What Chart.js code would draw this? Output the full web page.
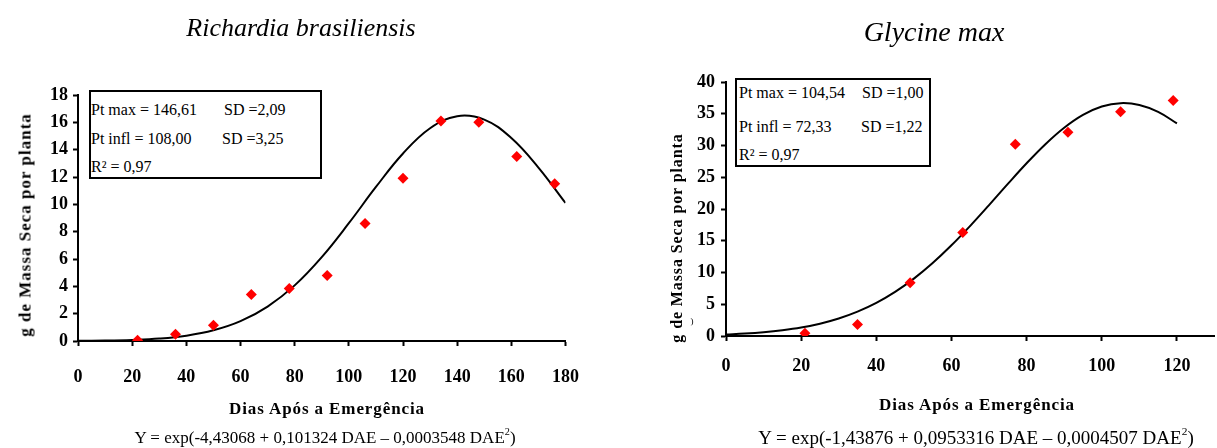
<!DOCTYPE html>
<html><head><meta charset="utf-8">
<script src="https://cdn.jsdelivr.net/npm/chart.js@4.4.1/dist/chart.umd.min.js"></script>
<style>
html,body{margin:0;padding:0;background:#fff;width:1217px;height:448px;overflow:hidden;position:relative;font-family:"Liberation Serif","Times New Roman",serif;color:#000}
.t{position:absolute;white-space:nowrap;transform:translate(-50%,-50%);line-height:1}
.v{position:absolute;white-space:nowrap;transform:translate(-50%,-50%) rotate(-90deg);line-height:1;font-weight:bold}
.box{position:absolute;border:2px solid #000;box-sizing:border-box;background:#fff}
.box span{position:absolute;white-space:nowrap;font-size:16px;line-height:1;transform:translateY(-50%)}
canvas{position:absolute;top:0;left:0}
sup{font-size:0.6em;vertical-align:0.75em;line-height:0}
</style></head><body>
<div style="position:absolute;left:0;top:0;width:600px;height:448px"><canvas id="cL" width="600" height="448"></canvas></div>
<div style="position:absolute;left:610px;top:0;width:610px;height:448px"><canvas id="cR" width="610" height="448"></canvas></div>

<div class="t" style="left:301px;top:28px;font-size:26px;font-style:italic">Richardia brasiliensis</div>
<div class="t" style="left:934px;top:32px;font-size:28px;font-style:italic">Glycine max</div>

<div class="v" style="left:25px;top:225px;font-size:17px;letter-spacing:1px">g de Massa Seca por planta</div>
<div class="v" style="left:677px;top:238px;font-size:16px;letter-spacing:0.9px">g de Massa Seca por planta</div>

<div class="t" style="left:327px;top:408px;font-size:17px;font-weight:bold;letter-spacing:0.9px">Dias Após a Emergência</div>
<div class="t" style="left:977px;top:404px;font-size:17px;font-weight:bold;letter-spacing:0.9px">Dias Após a Emergência</div>

<div class="t" style="left:325px;top:437px;font-size:17px">Y = exp(-4,43068 + 0,101324 DAE – 0,0003548 DAE<sup>2</sup>)</div>
<div class="t" style="left:976px;top:437px;font-size:19px">Y = exp(-1,43876 + 0,0953316 DAE – 0,0004507 DAE<sup>2</sup>)</div>

<div class="box" style="left:89px;top:90px;width:233px;height:89px">
  <span style="left:0px;top:17.5px">Pt max = 146,61</span>
  <span style="left:133px;top:17.5px">SD =2,09</span>
  <span style="left:0px;top:46.5px">Pt infl = 108,00</span>
  <span style="left:131px;top:46.5px">SD =3,25</span>
  <span style="left:0px;top:75px">R² = 0,97</span>
</div>
<div class="box" style="left:735px;top:78px;width:196px;height:89px">
  <span style="left:2px;top:13px">Pt max = 104,54</span>
  <span style="left:125px;top:13px">SD =1,00</span>
  <span style="left:2px;top:47px">Pt infl = 72,33</span>
  <span style="left:124px;top:47px">SD =1,22</span>
  <span style="left:2px;top:75px">R² = 0,97</span>
</div>
<div class="t" style="left:692px;top:321px;font-size:9px">)</div>

<script>
// Richardia brasiliensis
const leftDays = [22, 36, 50, 64, 78, 92, 106, 120, 134, 148, 162, 176];
const leftMass = [0.05, 0.5, 1.15, 3.4, 3.85, 4.8, 8.6, 11.9, 16.1, 16.0, 13.5, 11.5];
const leftCurveDays = [0, 10, 20, 30, 40, 50, 60, 70, 80, 90, 100, 110, 120, 130, 140, 150, 160, 170, 180];
const leftCurveMass = [0.01, 0.03, 0.08, 0.18, 0.39, 0.78, 1.45, 2.52, 4.07, 6.14, 8.62, 11.27, 13.72, 15.57, 16.45, 16.20, 14.85, 12.69, 10.10];
const leftXTicks = [0, 20, 40, 60, 80, 100, 120, 140, 160, 180];
const leftYTicks = [0, 2, 4, 6, 8, 10, 12, 14, 16, 18];

// Glycine max
const rightDays = [21, 35, 49, 63, 77, 91, 105, 119];
const rightMass = [0.45, 1.8, 8.4, 16.3, 30.2, 32.1, 35.3, 37.1];
const rightCurveDays = [0, 5, 10, 15, 20, 25, 30, 35, 40, 45, 50, 55, 60, 65, 70, 75, 80, 85, 90, 95, 100, 105, 110, 115, 120];
const rightCurveMass = [0.24, 0.38, 0.59, 0.90, 1.33, 1.94, 2.76, 3.84, 5.22, 6.95, 9.04, 11.49, 14.28, 17.35, 20.61, 23.95, 27.20, 30.21, 32.80, 34.82, 36.14, 36.67, 36.39, 35.30, 33.48];
const rightXTicks = [0, 20, 40, 60, 80, 100, 120];
const rightYTicks = [0, 5, 10, 15, 20, 25, 30, 35, 40];

const FAMILY = '"Liberation Serif", "Times New Roman", serif';

function makeChart(id, c) {
  const pts = c.days.map((d, i) => ({x: d, y: c.mass[i]}));
  const curve = c.curveDays.map((d, i) => ({x: d, y: c.curveMass[i]}));
  const axisCommon = {
    type: 'linear',
    grid: {drawOnChartArea: false, drawTicks: true, tickLength: 5, tickWidth: 2, tickColor: '#000'},
    border: {display: true, color: '#000', width: 2}
  };
  return new Chart(document.getElementById(id), {
    type: 'scatter',
    data: {datasets: [
      {data: pts, showLine: false, pointStyle: 'rectRot', pointRadius: 5.5, backgroundColor: '#ff0000', borderColor: '#ff0000', borderWidth: 0},
      {data: curve, showLine: true, borderColor: '#000', borderWidth: 2, pointRadius: 0, tension: 0.4, fill: false}
    ]},
    options: {
      responsive: false, animation: false, events: [],
      layout: {padding: c.padding},
      plugins: {legend: {display: false}, tooltip: {enabled: false}, title: {display: false}},
      scales: {
        x: Object.assign({}, axisCommon, {
          min: 0, max: c.xMax,
          afterBuildTicks: s => { s.ticks = c.xTicks.map(v => ({value: v})); },
          afterFit: s => { s.height = c.xH; },
          ticks: {color: '#000', font: {family: FAMILY, size: 18, weight: 'bold'}, padding: c.xPad, maxRotation: 0, autoSkip: false}
        }),
        y: Object.assign({}, axisCommon, {
          min: 0, max: c.yMax,
          afterBuildTicks: s => { s.ticks = c.yTicks.map(v => ({value: v})); },
          afterFit: s => { s.width = c.yW; },
          ticks: {color: '#000', font: {family: FAMILY, size: 18, weight: 'bold'}, padding: c.yPad, autoSkip: false}
        })
      }
    }
  });
}

makeChart('cL', {
  days: leftDays, mass: leftMass, curveDays: leftCurveDays, curveMass: leftCurveMass,
  xTicks: leftXTicks, yTicks: leftYTicks, xMax: 180, yMax: 18,
  padding: {top: 95, right: 32, left: 0, bottom: 0}, xH: 107, yW: 78, xPad: 21, yPad: 5
});
makeChart('cR', {
  days: rightDays, mass: rightMass, curveDays: rightCurveDays, curveMass: rightCurveMass,
  xTicks: rightXTicks, yTicks: rightYTicks, xMax: 130, yMax: 40,
  padding: {top: 82, right: 1, left: 0, bottom: 0}, xH: 112, yW: 116, xPad: 15, yPad: 6
});
</script>
</body></html>
